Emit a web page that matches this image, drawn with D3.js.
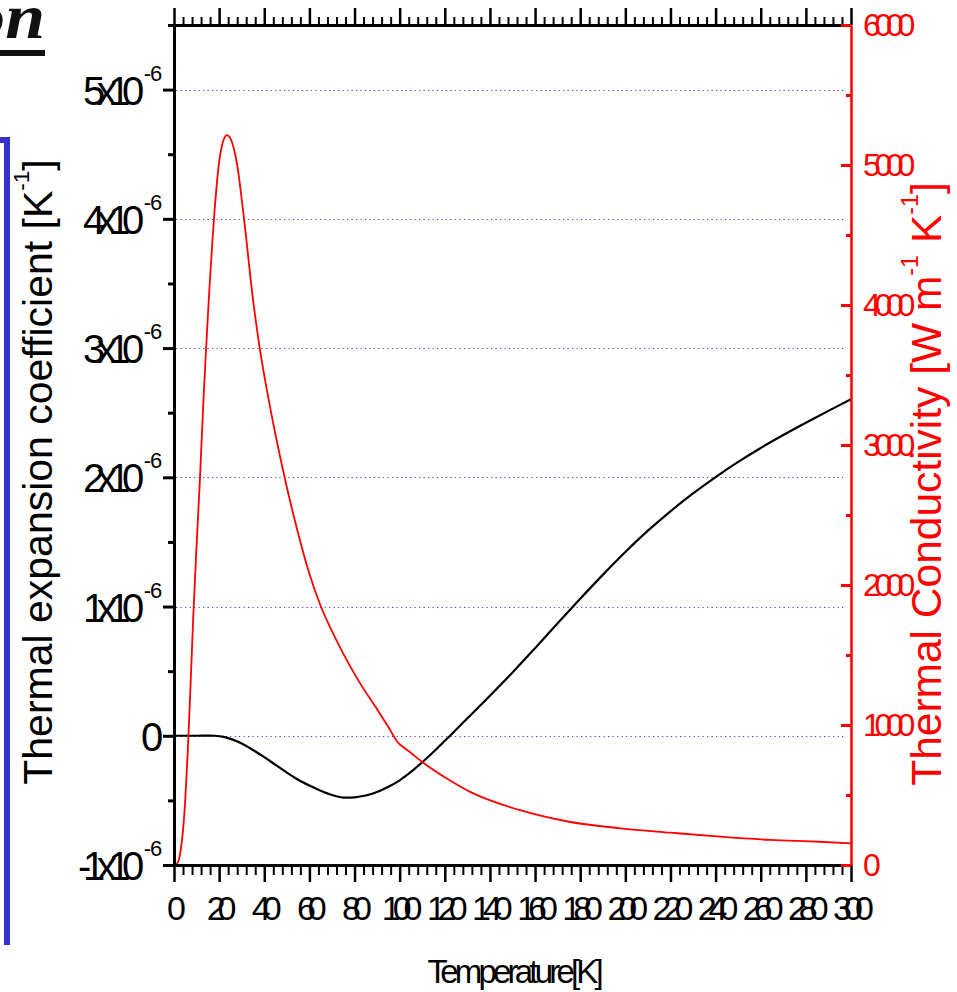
<!DOCTYPE html>
<html><head><meta charset="utf-8">
<script src="https://cdn.jsdelivr.net/npm/d3@7"></script>
<style>body{margin:0;background:#fff}svg{display:block}</style>
</head><body>
<svg id="c" width="957" height="992"></svg>
<script>
// ---------- data ----------
const tempExp = [0, 10, 18, 22, 26, 30, 35, 40, 45, 50, 55, 60, 65, 70, 75, 80, 85, 90, 95, 100, 105, 110, 116, 122, 130, 140, 150, 160, 170, 180, 190, 200, 210, 220, 230, 240, 250, 260, 270, 280, 290, 300];
const expansion = [0, 0, 0, -0.008, -0.03, -0.06, -0.11, -0.165, -0.225, -0.285, -0.34, -0.385, -0.425, -0.458, -0.478, -0.476, -0.462, -0.435, -0.395, -0.345, -0.28, -0.205, -0.108, -0.005, 0.135, 0.31, 0.49, 0.678, 0.87, 1.06, 1.245, 1.422, 1.587, 1.737, 1.875, 2.002, 2.119, 2.227, 2.327, 2.422, 2.514, 2.604]; // x 1e-6 K^-1
const tempCond = [0, 1, 2, 3, 4, 5, 6, 7, 8.5, 10, 11.5, 13, 14, 15, 16, 17, 18, 19, 20, 21, 22, 23.5, 25, 26.5, 28, 31, 35, 38, 42, 49, 55, 60, 65, 70, 75, 82, 90.5, 95, 99.5, 101, 105, 110, 122, 131, 153, 175, 198, 220, 242, 264, 286, 300];
const conductivity = [0, 5, 30, 110, 250, 470, 780, 1150, 1760, 2280, 2760, 3300, 3620, 3920, 4200, 4450, 4680, 4870, 5020, 5120, 5180, 5214, 5190, 5120, 5000, 4620, 4040, 3690, 3320, 2770, 2370, 2080, 1850, 1670, 1510, 1310, 1100, 985, 870, 850, 800, 736, 607, 524, 393, 309, 262, 231, 202, 179, 166, 155]; // W m^-1 K^-1
const xMajor = [0, 20, 40, 60, 80, 100, 120, 140, 160, 180, 200, 220, 240, 260, 280, 300];
const xMinorStep = 4;
const leftMajor = [-1, 0, 1, 2, 3, 4, 5];        // x 1e-6
const leftMinor = [-0.5, 0.5, 1.5, 2.5, 3.5, 4.5, 5.5];
const gridValues = [0, 1, 2, 3, 4, 5];
const rightMajor = [0, 1000, 2000, 3000, 4000, 5000, 6000];
const rightMinor = [500, 1500, 2500, 3500, 4500, 5500];
const xTitle = "Temperature[K]";
const leftTitle = ["Thermal expansion coefficient [K", "-1", "]"];
const rightTitle = ["Thermal Conductivity [W m", "-1", " K", "-1", "]"];

// ---------- setup ----------
const svg = d3.select("#c");
const L = 174, R = 851, T = 25, B = 865;
const x = d3.scaleLinear().domain([0, 300]).range([L, R]);
const yL = d3.scaleLinear().domain([-1, 5.5]).range([B, T]);
const yR = d3.scaleLinear().domain([0, 6000]).range([B, T]);
const FONT = "'Liberation Sans', Arial, sans-serif";
const RED = "#ff0000";

// decoration: blue frame edge and title fragment
svg.append("path").attr("d", "M-10,140H7V945").attr("fill", "none")
  .attr("stroke", "#3333cc").attr("stroke-width", 6);
const tf = svg.append("text").attr("x", 0).attr("y", 0)
  .attr("font-family", "'Liberation Serif', 'Times New Roman', serif")
  .attr("font-weight", "bold").attr("font-style", "italic")
  .attr("font-size", 64).attr("fill", "#111").text("on");
const tfb = tf.node().getBBox();
const sx = 1.12;
tf.attr("transform", `translate(${45 - sx * (tfb.x + tfb.width)},38) scale(${sx},1)`);
svg.append("rect").attr("x", 0).attr("y", 50).attr("width", 45).attr("height", 6).attr("fill", "#111");

// grid
svg.append("g").selectAll("line").data(gridValues).join("line")
  .attr("x1", L + 2).attr("x2", R - 6)
  .attr("y1", d => Math.round(yL(d)) + 0.5).attr("y2", d => Math.round(yL(d)) + 0.5)
  .attr("stroke", "#3a3aff").attr("stroke-width", 1).attr("stroke-dasharray", "1.2,3.3");

// curves
const lineExp = d3.line().x((d, i) => x(tempExp[i])).y(d => yL(d)).curve(d3.curveCatmullRom.alpha(0.5));
svg.append("path").attr("d", lineExp(expansion)).attr("fill", "none")
  .attr("stroke", "#000").attr("stroke-width", 2.2);
const lineCond = d3.line().x((d, i) => x(tempCond[i])).y(d => yR(d)).curve(d3.curveMonotoneX);
svg.append("path").attr("d", lineCond(conductivity)).attr("fill", "none")
  .attr("stroke", RED).attr("stroke-width", 1.8);

// helper for compressed text
function compText(g, px, py, anchor, parts, size, spacing, fill, rotate, supOpts) {
  supOpts = supOpts || {};
  const t = g.append("text").attr("x", 0).attr("y", 0)
    .attr("font-family", FONT).attr("font-size", size).attr("fill", fill)
    .style("letter-spacing", spacing + "px");
  let sup = false;
  const rise = size * (supOpts.rise || 0.55);
  parts.forEach(p => {
    const sp = t.append("tspan").text(p.t);
    if (p.sup) {
      sp.attr("font-size", size * 0.55);
      if (supOpts.spacing !== undefined) sp.style("letter-spacing", supOpts.spacing + "px");
      if (supOpts.dx) sp.attr("dx", supOpts.dx);
      if (!sup) { sp.attr("dy", -rise); sup = true; }
    } else if (sup) { sp.attr("dy", rise); sup = false; }
  });
  const b = t.node().getBBox();
  let dx = anchor === "end" ? -(b.x + b.width) : anchor === "middle" ? -(b.x + b.width / 2) : -b.x;
  if (rotate) {
    t.attr("transform", `translate(${px},${py}) rotate(${rotate}) translate(${dx},0)`);
  } else {
    t.attr("transform", `translate(${px + dx},${py})`);
  }
  return t;
}

// ---------- axes ----------
function styleAxis(g, color, w) {
  g.select(".domain").attr("stroke", color).attr("stroke-width", w);
  g.selectAll(".tick line").attr("stroke", color);
}
const xMinor = d3.range(0, 301, xMinorStep).filter(v => v % 20 !== 0);

// bottom
const gb = svg.append("g").attr("transform", `translate(0,${B})`);
gb.call(d3.axisBottom(x).tickValues(xMinor).tickSize(10).tickSizeOuter(0).tickFormat(""));
gb.selectAll(".tick line").attr("stroke-width", 2);
gb.select(".domain").remove();
const gb2 = svg.append("g").attr("transform", `translate(0,${B})`);
gb2.call(d3.axisBottom(x).tickValues(xMajor).tickSize(17).tickSizeOuter(0).tickFormat(""));
styleAxis(gb2, "#000", 3);
gb2.selectAll(".tick line").attr("stroke-width", 2.5);
xMajor.forEach(v => compText(svg, x(v) + 2, 920, "middle", [{t: String(v)}], 34, -8, "#000"));

// top
const gt = svg.append("g").attr("transform", `translate(0,${T})`);
gt.call(d3.axisTop(x).tickValues(xMinor).tickSize(8).tickSizeOuter(0).tickFormat(""));
gt.selectAll(".tick line").attr("stroke-width", 2);
gt.select(".domain").remove();
const gt2 = svg.append("g").attr("transform", `translate(0,${T})`);
gt2.call(d3.axisTop(x).tickValues(xMajor).tickSize(17).tickSizeOuter(0).tickFormat(""));
styleAxis(gt2, "#000", 3);
gt2.selectAll(".tick line").attr("stroke-width", 2.5);

// left
const gl = svg.append("g").attr("transform", `translate(${L},0)`);
gl.call(d3.axisLeft(yL).tickValues(leftMinor).tickSize(6).tickSizeOuter(0).tickFormat(""));
gl.selectAll(".tick line").attr("stroke-width", 3);
gl.select(".domain").remove();
const gl2 = svg.append("g").attr("transform", `translate(${L},0)`);
gl2.call(d3.axisLeft(yL).tickValues(leftMajor).tickSize(11).tickSizeOuter(0).tickFormat(""));
styleAxis(gl2, "#000", 3);
gl2.selectAll(".tick line").attr("stroke-width", 3);
leftMajor.forEach(v => {
  const parts = v === 0 ? [{t: "0"}] : [{t: v + "x10"}, {t: "-6", sup: true}];
  compText(svg, 162, yL(v) + 15, "end", parts, 40, -8.5, "#000", 0, {spacing: -1, dx: 8, rise: 0.6});
});

// right (red)
const gr = svg.append("g").attr("transform", `translate(${R},0)`);
gr.call(d3.axisLeft(yR).tickValues(rightMinor).tickSize(5).tickSizeOuter(0).tickFormat(""));
gr.selectAll(".tick line").attr("stroke", RED).attr("stroke-width", 3);
gr.select(".domain").remove();
const gr2 = svg.append("g").attr("transform", `translate(${R},0)`);
gr2.call(d3.axisLeft(yR).tickValues(rightMajor).tickSize(10).tickSizeOuter(0).tickFormat(""));
styleAxis(gr2, RED, 2.5);
gr2.selectAll(".tick line").attr("stroke-width", 3);
rightMajor.forEach(v => compText(svg, 863, yR(v) + 10.5, "start", [{t: String(v)}], 32, -6.3, RED));

// titles
compText(svg, (L + R) / 2 + 2, 983, "middle", [{t: xTitle}], 33, -3.8, "#000");
compText(svg, 52, 472, "middle",
  [{t: leftTitle[0]}, {t: leftTitle[1], sup: true}, {t: leftTitle[2]}], 41, 0, "#000", -90);
compText(svg, 941, 484, "middle",
  [{t: rightTitle[0]}, {t: rightTitle[1], sup: true}, {t: rightTitle[2]}, {t: rightTitle[3], sup: true}, {t: rightTitle[4]}], 42.5, 0, RED, -90);
</script>
</body></html>
